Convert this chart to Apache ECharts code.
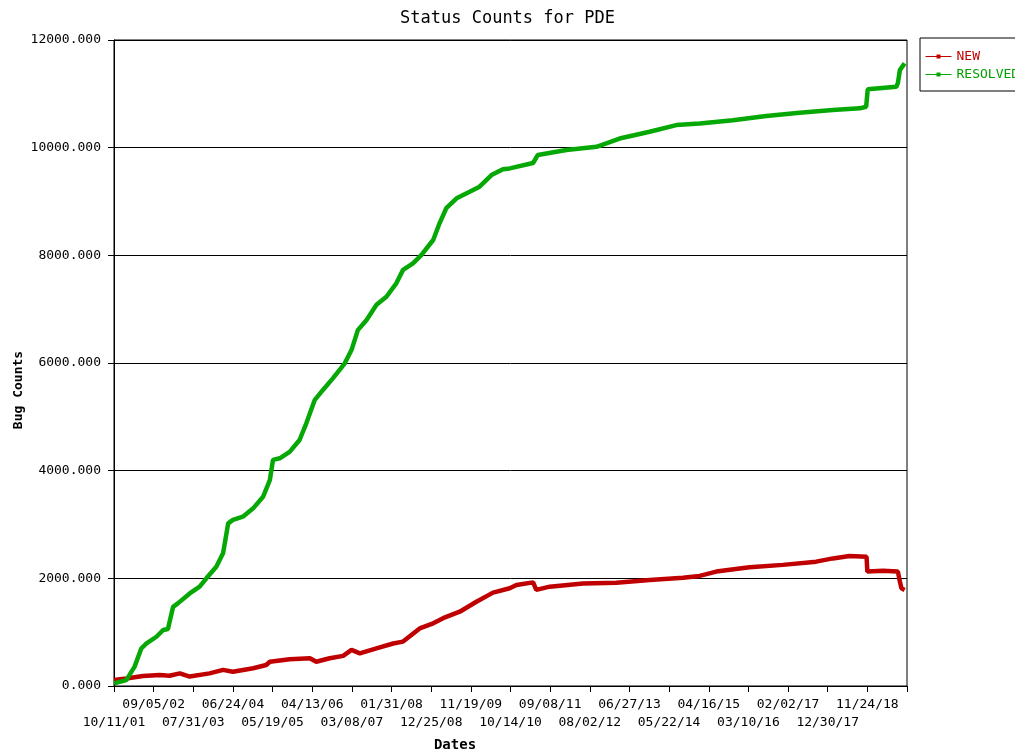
<!DOCTYPE html>
<html>
<head>
<meta charset="utf-8">
<title>Status Counts for PDE</title>
<script src="https://cdn.jsdelivr.net/npm/echarts@6/dist/echarts.min.js"></script>
<style>
  html, body { margin: 0; padding: 0; background: #fff; }
  #myChart { width: 1015px; height: 754px; }
</style>
</head>
<body>
<div id="myChart"></div>
<script type="text/javascript">
// tick labels, one every 329 days starting 10/11/01
var tickLabels = ['10/11/01', '09/05/02', '07/31/03', '06/24/04', '05/19/05', '04/13/06',
  '03/08/07', '01/31/08', '12/25/08', '11/19/09', '10/14/10', '09/08/11', '08/02/12',
  '06/27/13', '05/22/14', '04/16/15', '03/10/16', '02/02/17', '12/30/17', '11/24/18'];

// x positions are in tick steps (0 = 10/11/01, 1 = 09/05/02 ...)
var newT = [0, 0.31, 0.73, 1.15, 1.40, 1.66, 1.91, 2.41, 2.75, 3.00, 3.51, 3.84, 3.93, 4.43,
  4.94, 5.10, 5.44, 5.78, 5.99, 6.20, 6.62, 7.04, 7.29, 7.71, 8.05, 8.30, 8.72, 9.14, 9.56,
  9.98, 10.15, 10.57, 10.65, 10.99, 11.83, 12.67, 13.51, 14.35, 14.77, 15.19, 16.03, 16.87,
  17.71, 18.13, 18.55, 18.98, 19.00, 19.39, 19.77, 19.82, 19.86, 19.94];
var newCounts = [110, 140, 185, 205, 190, 235, 175, 235, 300, 265, 330, 390, 450, 495,
  515, 450, 515, 560, 670, 605, 700, 790, 825, 1070, 1165, 1260, 1380, 1565, 1735,
  1815, 1875, 1925, 1785, 1845, 1905, 1920, 1970, 2010, 2045, 2125, 2205, 2250,
  2310, 2370, 2415, 2400, 2125, 2140, 2125, 1940, 1815, 1785];

var resolvedT = [0, 0.31, 0.52, 0.69, 0.82, 1.07, 1.24, 1.36, 1.49, 1.61, 1.91, 2.16, 2.33,
  2.58, 2.75, 2.88, 3.00, 3.25, 3.51, 3.76, 3.93, 4.01, 4.18, 4.43, 4.68, 4.85, 5.06, 5.27,
  5.52, 5.82, 5.99, 6.15, 6.37, 6.62, 6.87, 7.12, 7.29, 7.54, 7.75, 8.05, 8.21, 8.38, 8.64,
  8.97, 9.22, 9.52, 9.81, 9.98, 10.57, 10.69, 11.41, 12.17, 12.75, 13.51, 14.18, 14.77,
  15.61, 16.45, 17.29, 18.13, 18.81, 18.97, 19.01, 19.73, 19.77, 19.82, 19.94];
var resolvedCounts = [50, 110, 360, 700, 790, 915, 1040, 1060, 1470, 1535, 1720, 1845, 2000,
  2215, 2465, 3020, 3085, 3145, 3300, 3515, 3825, 4200, 4230, 4350, 4570, 4880, 5310, 5500,
  5715, 5995, 6240, 6610, 6800, 7080, 7230, 7480, 7730, 7850, 8005, 8285, 8595, 8875, 9060,
  9180, 9275, 9490, 9600, 9615, 9715, 9865, 9955, 10015, 10170, 10295, 10420, 10450,
  10510, 10590, 10650, 10700, 10730, 10760, 11085, 11130, 11200, 11440, 11565];

var monoFont = 'DejaVu Sans Mono';

function pairs(xs, ys) {
    var out = [];
    for (var i = 0; i < xs.length; i++) {
        out.push([xs[i], ys[i]]);
    }
    return out;
}

// odd ticks go on the upper row, even ticks on the lower row
function rowLabel(parity) {
    return function (v) {
        var i = Math.round(v);
        if (i >= tickLabels.length || i % 2 !== parity) return '';
        return tickLabels[i];
    };
}

var xLabelStyle = {
    color: '#000',
    fontFamily: monoFont,
    fontSize: 13,
    showMinLabel: true,
    showMaxLabel: true,
    hideOverlap: false
};

var option = {
    backgroundColor: '#fff',
    animation: false,
    title: {
        text: 'Status Counts for PDE',
        left: 'center',
        top: 5,
        textStyle: { fontFamily: monoFont, fontSize: 17, fontWeight: 'normal', color: '#000' }
    },
    legend: {
        orient: 'vertical',
        left: 920,
        top: 38,
        padding: [12, 80, 10, 5],
        itemGap: 5,
        itemWidth: 26,
        itemHeight: 5,
        borderColor: '#000',
        borderWidth: 1,
        lineStyle: { width: 1 },
        textStyle: { fontFamily: monoFont, fontSize: 13 },
        data: [
            { name: 'NEW', textStyle: { color: '#c00000' } },
            { name: 'RESOLVED', textStyle: { color: '#00a000' } }
        ]
    },
    grid: {
        left: 114,
        right: 108,
        top: 40,
        bottom: 68,
        show: true,
        borderColor: '#000',
        borderWidth: 1
    },
    xAxis: [
        {
            type: 'value',
            position: 'bottom',
            min: 0,
            max: 20,
            interval: 1,
            axisLine: { lineStyle: { color: '#000', width: 1 } },
            axisTick: { length: 6, lineStyle: { color: '#000' } },
            splitLine: { show: false },
            axisLabel: Object.assign({ margin: 12, formatter: rowLabel(1) }, xLabelStyle)
        },
        {
            type: 'value',
            position: 'bottom',
            min: 0,
            max: 20,
            interval: 1,
            axisLine: { show: false },
            axisTick: { show: false },
            splitLine: { show: false },
            axisLabel: Object.assign({ margin: 30, formatter: rowLabel(0) }, xLabelStyle)
        }
    ],
    yAxis: {
        type: 'value',
        min: 0,
        max: 12000,
        interval: 2000,
        axisLine: { show: true, lineStyle: { color: '#000', width: 1 } },
        axisTick: { show: true, length: 6, lineStyle: { color: '#000' } },
        splitLine: { show: true, lineStyle: { color: '#000', width: 1 } },
        axisLabel: {
            margin: 13,
            color: '#000',
            fontFamily: monoFont,
            fontSize: 13,
            formatter: function (v) { return v.toFixed(3); }
        }
    },
    graphic: [
        {
            type: 'text',
            x: 19,
            y: 390,
            rotation: Math.PI / 2,
            style: {
                text: 'Bug Counts',
                font: 'bold 13px ' + monoFont,
                fill: '#000',
                align: 'center',
                verticalAlign: 'middle'
            }
        },
        {
            type: 'text',
            x: 455,
            y: 745,
            style: {
                text: 'Dates',
                font: 'bold 14px ' + monoFont,
                fill: '#000',
                align: 'center',
                verticalAlign: 'middle'
            }
        }
    ],
    series: [
        {
            name: 'NEW',
            type: 'line',
            xAxisIndex: 0,
            data: pairs(newT, newCounts),
            showSymbol: false,
            symbol: 'rect',
            symbolSize: 4,
            color: '#c00000',
            lineStyle: { width: 4.5, color: '#c00000' }
        },
        {
            name: 'RESOLVED',
            type: 'line',
            xAxisIndex: 0,
            data: pairs(resolvedT, resolvedCounts),
            showSymbol: false,
            symbol: 'rect',
            symbolSize: 4,
            color: '#00a800',
            lineStyle: { width: 4.5, color: '#06a806' }
        }
    ]
};

echarts.init(document.getElementById('myChart')).setOption(option);
</script>
</body>
</html>
